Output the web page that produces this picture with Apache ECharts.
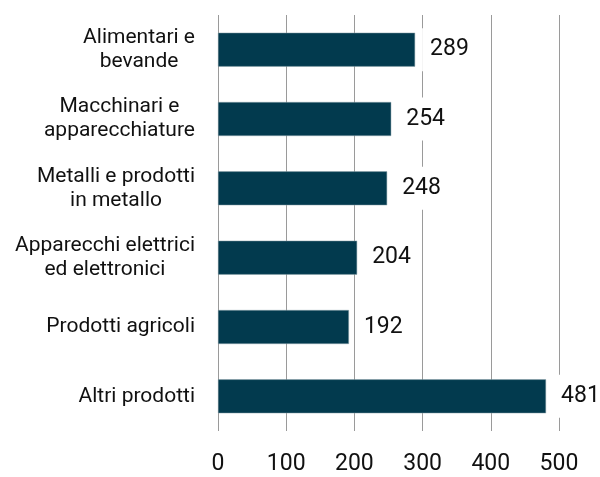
<!DOCTYPE html>
<html>
<head>
<meta charset="utf-8">
<script src="https://cdn.jsdelivr.net/npm/echarts@6/dist/echarts.min.js"></script>
<style>
  html, body { margin: 0; padding: 0; background: #fff; }
  #chart { width: 600px; height: 477px; }
</style>
</head>
<body>
<div id="chart"></div>
<script>
// data, top to bottom as shown
var categories = [
    'Alimentari e\nbevande',
    'Macchinari e\napparecchiature',
    'Metalli e prodotti\nin metallo',
    'Apparecchi elettrici\ned elettronici',
    'Prodotti agricoli',
    'Altri prodotti'
];
var values = [289, 254, 248, 204, 192, 481];
var xTicks = [0, 100, 200, 300, 400, 500];

var myChart = echarts.init(document.getElementById('chart'));

var option = {
    animation: false,
    textStyle: { fontFamily: 'Roboto' },
    grid: {
        left: 218,
        right: 41,
        top: 15,
        bottom: 46
    },
    xAxis: {
        type: 'value',
        min: xTicks[0],
        max: xTicks[xTicks.length - 1],
        interval: 100,
        axisLine: { show: false },
        axisTick: { show: false },
        axisLabel: { fontSize: 23, color: '#111', margin: 22 },
        splitLine: { lineStyle: { color: '#9a9a9a', width: 1 } }
    },
    yAxis: {
        type: 'category',
        inverse: true,
        data: categories,
        axisLine: { show: false },
        axisTick: { show: false },
        axisLabel: {
            margin: 23,
            align: 'right',
            // center each line inside its label block
            formatter: function (v) {
                return v.split('\n').map(function (s) { return '{c|' + s + '}'; }).join('\n');
            },
            rich: {
                c: { fontSize: 21, color: '#111', lineHeight: 24, align: 'center', fontFamily: 'Roboto' }
            }
        }
    },
    series: [{
        type: 'bar',
        data: values,
        barCategoryGap: '51%',
        itemStyle: { color: '#023a4e', borderColor: '#8fa4ad', borderWidth: 0.5 },
        label: {
            show: true,
            position: 'right',
            distance: 7,
            fontSize: 23,
            color: '#111',
            backgroundColor: '#fff',
            padding: [10, 6, 10, 8]
        }
    }]
};

myChart.setOption(option);
</script>
</body>
</html>
